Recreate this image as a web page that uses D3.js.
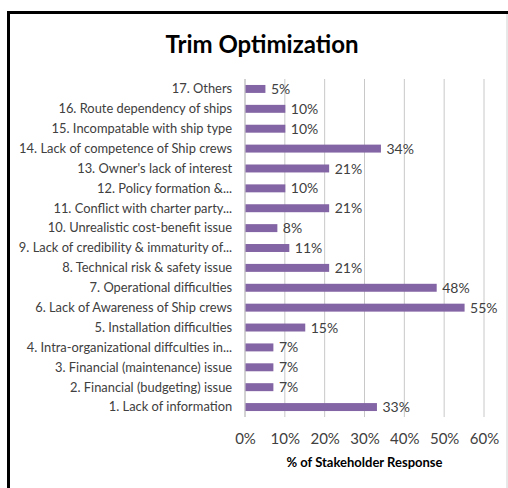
<!DOCTYPE html>
<html>
<head>
<meta charset="utf-8">
<script src="https://cdn.jsdelivr.net/npm/d3@7"></script>
<style>
  html, body { margin: 0; padding: 0; background: #fff; }
  svg { display: block; }
  text { font-family: Lato, "Open Sans", sans-serif; }
</style>
</head>
<body>
<svg id="chart" width="508" height="488"></svg>
<script>
// Barriers to trim optimization, share of stakeholder responses
const categories = [
  "1. Lack of information",
  "2. Financial (budgeting) issue",
  "3. Financial (maintenance) issue",
  "4. Intra-organizational diffculties in...",
  "5. Installation difficulties",
  "6. Lack of Awareness of Ship crews",
  "7. Operational difficulties",
  "8. Technical risk & safety issue",
  "9. Lack of credibility & immaturity of...",
  "10. Unrealistic cost-benefit issue",
  "11. Conflict with charter party...",
  "12. Policy formation &...",
  "13. Owner's lack of interest",
  "14. Lack of competence of Ship crews",
  "15. Incompatable with ship type",
  "16. Route dependency of ships",
  "17. Others"
];
const responsePct = [33, 7, 7, 7, 15, 55, 48, 21, 11, 8, 21, 10, 21, 34, 10, 10, 5];
const xTicks = [0, 10, 20, 30, 40, 50, 60];
const titleText = "Trim Optimization";
const xAxisTitle = "% of Stakeholder Response";

const svg = d3.select("#chart");

// frame around the chart area
svg.append("path")
  .attr("d", "M8.5,488 V12.5 H508")
  .attr("fill", "none").attr("stroke", "#000").attr("stroke-width", 3);
svg.append("line")
  .attr("x1", 507).attr("x2", 507).attr("y1", 14).attr("y2", 488)
  .attr("stroke", "#d0d0d0").attr("stroke-width", 1);

const plot = { left: 245, right: 484, top: 79, bottom: 417 };

const x = d3.scaleLinear().domain([0, 60]).range([plot.left, plot.right]);
const y = d3.scaleBand()
  .domain(categories.slice().reverse())
  .range([plot.top, plot.bottom])
  .paddingInner(0.6).paddingOuter(0.3);

// vertical gridlines
svg.append("g")
  .selectAll("line")
  .data(xTicks.slice(1))
  .join("line")
  .attr("x1", d => x(d)).attr("x2", d => x(d))
  .attr("y1", plot.top).attr("y2", plot.bottom)
  .attr("stroke", "#c8c8c8").attr("stroke-width", 1);

// category axis line
svg.append("line")
  .attr("x1", x(0)).attr("x2", x(0))
  .attr("y1", plot.top).attr("y2", plot.bottom)
  .attr("stroke", "#a6a6a6").attr("stroke-width", 1);

// bars
const rows = categories.map((c, i) => ({ c, v: responsePct[i] }));
svg.append("g")
  .selectAll("rect")
  .data(rows)
  .join("rect")
  .attr("x", x(0) + 0.5)
  .attr("y", d => y(d.c))
  .attr("width", d => x(d.v) - x(0))
  .attr("height", y.bandwidth())
  .attr("fill", "#8364a4");

// value labels
svg.append("g")
  .selectAll("text")
  .data(rows)
  .join("text")
  .attr("x", d => x(d.v) + 6)
  .attr("y", d => y(d.c) + y.bandwidth() / 2)
  .attr("dy", "0.36em")
  .attr("font-size", 14)
  .attr("fill", "#404040")
  .text(d => d.v + "%");

// category labels, slightly condensed horizontally to fit the left margin
const yAxis = d3.axisLeft(y).tickSize(0).tickPadding(13.5);
const gy = svg.append("g").attr("transform", `translate(${x(0)},0) scale(0.955,1)`).call(yAxis);
gy.select(".domain").remove();
gy.selectAll("text")
  .attr("font-family", "Lato, 'Open Sans', sans-serif")
  .attr("font-size", 13.5)
  .attr("fill", "#404040");

// value axis tick labels
const xAxis = d3.axisBottom(x).tickValues(xTicks).tickFormat(d => d + "%").tickSize(0).tickPadding(16);
const gx = svg.append("g").attr("transform", `translate(0,${plot.bottom})`).call(xAxis);
gx.select(".domain").remove();
gx.selectAll("text")
  .attr("font-family", "Lato, 'Open Sans', sans-serif")
  .attr("font-size", 15)
  .attr("fill", "#404040");

// titles
svg.append("text")
  .attr("x", 262).attr("y", 53)
  .attr("text-anchor", "middle")
  .attr("font-size", 24).attr("font-weight", "bold")
  .attr("fill", "#000")
  .text(titleText);

svg.append("text")
  .attr("x", (plot.left + plot.right) / 2).attr("y", 467)
  .attr("text-anchor", "middle")
  .attr("font-size", 13).attr("font-weight", "bold")
  .attr("fill", "#000")
  .text(xAxisTitle);
</script>
</body>
</html>
